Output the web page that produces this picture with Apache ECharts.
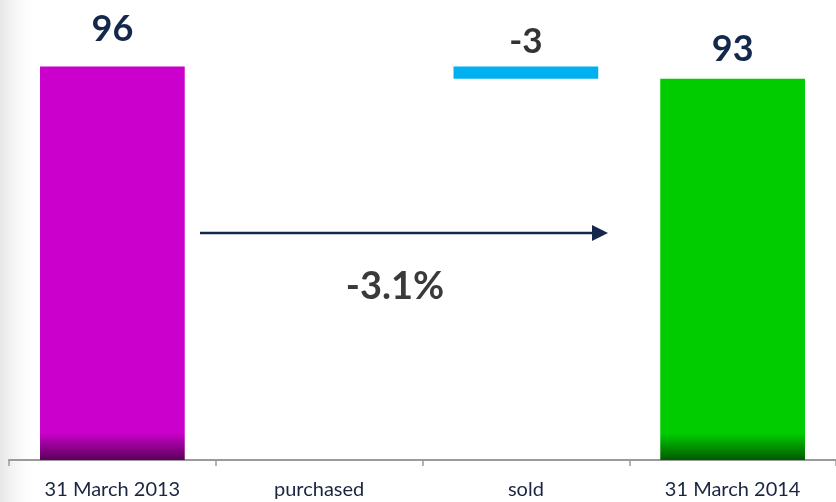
<!DOCTYPE html>
<html><head><meta charset="utf-8">
<script src="https://cdn.jsdelivr.net/npm/echarts@6/dist/echarts.min.js"></script>
<style>html,body{margin:0;padding:0;background:#fff}#c{width:836px;height:502px}</style>
</head><body><div id="c"></div>
<script>
const categories = ['31 March 2013', 'purchased', 'sold', '31 March 2014'];
const values = [96, 0, -3, 93];
const isTotal = [true, false, false, true];
const changeLabel = '-3.1%';

const colors = ['#cc00cc', '#00b0f0', '#00b0f0', '#00cc00'];
const darks = ['#5a005a', '#005a80', '#005a80', '#005a00'];
const labelColors = ['#14284b', '#333333', '#333333', '#14284b'];
const labelDist = [19, 0, 7, 11];
const labelSize = [36, 0, 35, 36];

// waterfall: invisible base + visible part
const base = [], vis = [];
let run = 0;
values.forEach((v, i) => {
  if (isTotal[i]) { base.push(0); vis.push(v); run = v; }
  else { const lo = Math.min(run, run + v); base.push(lo); vis.push(Math.abs(v)); run += v; }
});

const chart = echarts.init(document.getElementById('c'));
chart.setOption({
  animation: false,
  grid: { left: 9, right: -4, top: 50, bottom: 42 },
  xAxis: {
    type: 'category', data: categories,
    axisLine: { lineStyle: { color: '#9a9a9a', width: 2 } },
    axisTick: { show: true, length: 6, lineStyle: { color: '#9a9a9a', width: 1.5 } },
    axisLabel: { color: '#1a2540', fontSize: 20, fontFamily: 'Lato', margin: 20, interval: 0 }
  },
  yAxis: { type: 'value', min: 0, max: 100, show: false, splitLine: { show: false } },
  series: [
    { type: 'bar', stack: 'w', data: base, itemStyle: { color: 'transparent' }, barWidth: '70%', silent: true },
    {
      type: 'bar', stack: 'w', barWidth: '70%',
      data: vis.map((v, i) => ({
        value: v,
        itemStyle: {
          color: isTotal[i] ? new echarts.graphic.LinearGradient(0, 0, 0, 1, [
            { offset: 0, color: colors[i] }, { offset: 0.93, color: colors[i] }, { offset: 1, color: darks[i] }
          ]) : colors[i]
        },
        label: {
          show: values[i] !== 0, position: 'top', distance: labelDist[i],
          formatter: String(values[i]), color: labelColors[i],
          fontSize: labelSize[i], fontWeight: 'bold', fontFamily: 'Lato'
        }
      }))
    }
  ],
  graphic: [
    { type: 'rect', z: -10, shape: { x: 0, y: 0, width: 40, height: 502 },
      style: { fill: new echarts.graphic.LinearGradient(0, 0, 1, 0, [
        { offset: 0, color: '#e6e6e6' }, { offset: 1, color: 'rgba(255,255,255,0)' }]) } },
    { type: 'line', shape: { x1: 200, y1: 233, x2: 594, y2: 233 }, style: { stroke: '#14284b', lineWidth: 2.5 } },
    { type: 'polygon', shape: { points: [[592, 225], [608, 233], [592, 241]] }, style: { fill: '#14284b' } },
    { type: 'text', x: 395, y: 287, style: { text: changeLabel, fill: '#3a3a3a', font: 'bold 38px Lato', align: 'center', verticalAlign: 'middle' } }
  ]
});
</script></body></html>
